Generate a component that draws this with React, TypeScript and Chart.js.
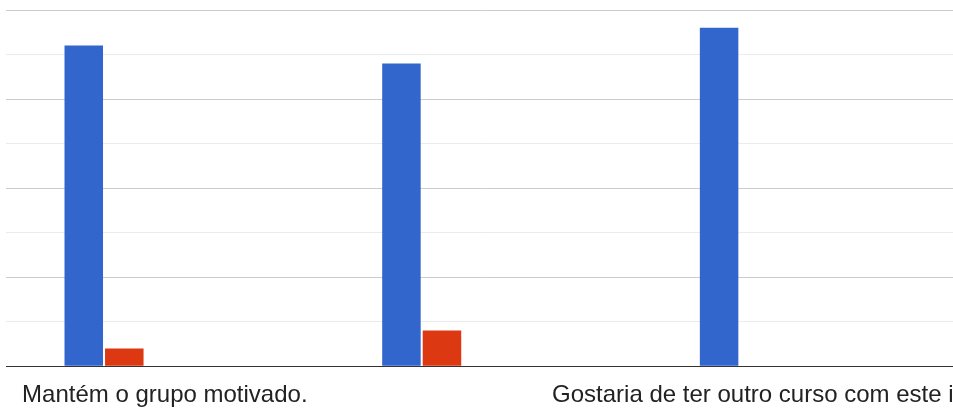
import React, { useEffect, useRef } from "react";
import { Chart, registerables } from "chart.js";

Chart.register(...registerables);

const categories = [
  "Mantém o grupo motivado.",
  "Demonstra domínio do conteúdo.",
  "Gostaria de ter outro curso com este instrutor?",
];
const seriesNames = ["Concordo totalmente", "Concordo", "Neutro", "Discordo", "Discordo totalmente"];
const series1 = [36, 34, 38];
const series2 = [2, 4, 0];
const series3 = [0, 0, 0];
const series4 = [0, 0, 0];
const series5 = [0, 0, 0];
const colors = ["#3366cc", "#dc3912", "#ff9900", "#109618", "#990099"];
const yMax = 40;
const yStep = 5;
const majorStep = 10;

export default function App() {
  const ref = useRef<HTMLCanvasElement | null>(null);
  useEffect(() => {
    if (!ref.current) return;
    const all = [series1, series2, series3, series4, series5];
    const chart = new Chart(ref.current, {
      type: "bar",
      data: {
        labels: categories,
        datasets: all.map((d, i) => ({
          label: seriesNames[i],
          data: d,
          backgroundColor: colors[i],
          borderWidth: 0,
          barPercentage: 0.95,
          categoryPercentage: 0.638,
        })),
      },
      options: {
        animation: false,
        responsive: true,
        maintainAspectRatio: false,
        layout: { padding: { left: 6, top: 10, right: 0, bottom: 0 } },
        plugins: { legend: { display: false }, tooltip: { enabled: false } },
        scales: {
          x: {
            grid: { display: false, drawTicks: false },
            border: { color: "#333", width: 1 },
            afterFit: (scale: any) => {
              scale.paddingRight = 0;
              scale.paddingLeft = 0;
            },
            ticks: {
              autoSkip: false,
              maxRotation: 0,
              minRotation: 0,
              padding: 15,
              color: "#222",
              font: { family: "'Liberation Sans', Arial, sans-serif", size: 24 },
              callback: (_v: any, i: number) => (i % 2 === 0 ? categories[i] : ""),
            },
          },
          y: {
            min: 0,
            max: yMax,
            ticks: { display: false, stepSize: yStep },
            border: { display: false },
            grid: {
              drawTicks: false,
              color: (ctx: any) =>
                ctx.tick.value === 0
                  ? "rgba(0,0,0,0)"
                  : ctx.tick.value % majorStep === 0
                  ? "#cccccc"
                  : "#ebebeb",
            },
          },
        },
      },
    });
    return () => chart.destroy();
  }, []);
  return (
    <div style={{ position: "absolute", left: 0, top: 0, width: 953, height: 410, overflow: "hidden", background: "#fff" }}>
      <div style={{ position: "relative", width: 959, height: 425 }}>
        <canvas ref={ref} />
      </div>
    </div>
  );
}
